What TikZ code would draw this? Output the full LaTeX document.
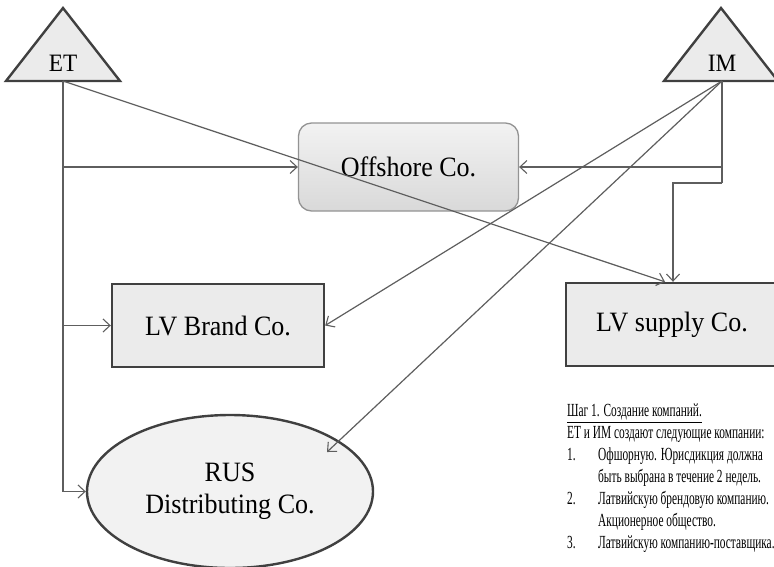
\documentclass[tikz,border=0pt]{standalone}
\usepackage{fontspec}
\setmainfont{Liberation Serif}
\newfontfamily\diagfont[FakeStretch=0.93]{Liberation Serif}
\newfontfamily\notefont[FakeStretch=0.615]{Liberation Serif}
\usetikzlibrary{arrows.meta,shapes.geometric}
\definecolor{linegray}{HTML}{5E5E5E}
\definecolor{edgedark}{HTML}{404040}
\definecolor{boxfill}{HTML}{EBEBEB}
\tikzset{
  conn/.style={draw=linegray, line width=1.2pt},
  arr/.style={conn, -{Straight Barb[length=7pt,width=13pt,line width=1.1pt]}},
  tri/.style={draw=edgedark, line width=2.4pt, fill=boxfill, line join=miter},
  sqbox/.style={draw=edgedark, line width=2.4pt, fill=boxfill, inner sep=0pt},
  roundbox/.style={draw=gray!85, line width=1.3pt, rounded corners=13pt, top color=gray!10, bottom color=gray!30, inner sep=0pt},
  ovalbox/.style={ellipse, draw=edgedark, line width=2.4pt, fill=gray!10, inner sep=0pt},
  bigtext/.style={font=\diagfont\fontsize{28}{32}\selectfont, text=black},
  tritext/.style={font=\diagfont\fontsize{25}{28}\selectfont, text=black},
  notetext/.style={font=\notefont\fontsize{18.5}{22}\selectfont, text=black, align=left, inner sep=0pt}
}
\begin{document}
\begin{tikzpicture}[x=1pt,y=-1pt]
\useasboundingbox (0,0) rectangle (774,566);
% triangles
\draw[tri] (63,8) -- (120,81) -- (6,81) -- cycle;
\draw[tri] (721,8) -- (778,81) -- (664,81) -- cycle;
\node[tritext] (et) at (63,63) {ET};
\node[tritext] (im) at (722,63) {IM};
\coordinate (etb) at (63,81);
\coordinate (imb) at (722,81);
% boxes
\node[roundbox, minimum width=220pt, minimum height=88pt, bigtext] (off) at (408.5,167) {Offshore Co.};
\node[sqbox, minimum width=212pt, minimum height=83pt, bigtext] (brand) at (218,325.5) {LV Brand Co.};
\node[sqbox, minimum width=212pt, minimum height=83pt, bigtext] (supply) at (672,324.5) {LV supply Co.};
\node[ovalbox, minimum width=286pt, minimum height=153pt, bigtext, align=center] (rus) at (230,491.5) {RUS\\Distributing Co.};
\coordinate (rustip) at (327,452);
\coordinate (imstep) at (722,183);
% ET connectors
\draw[conn] (etb) -- (etb |- rus.west);
\draw[arr] (etb |- rus.west) -- (rus.west);
\draw[arr] (etb |- off.west) -- (off.west);
\draw[arr] (etb |- brand.west) -- (brand.west);
\draw[arr] (etb) -- ([xshift=-7pt]supply.north);
% IM connectors
\draw[conn] (imb) -- (imstep);
\draw[arr] (imb |- off.east) -- (off.east);
\draw[arr] (imstep) -| ([xshift=1pt]supply.north);
\draw[arr] (imb) -- (brand.east);
\draw[arr] (imb) -- (rustip);
% note
\node[notetext, anchor=north west] (note) at (567,404) {%
\underline{Шаг 1. Создание компаний.}\\
ЕТ и ИМ создают следующие компании:\\
\makebox[31pt][l]{1.}Офшорную. Юрисдикция должна\\
\hspace*{31pt}быть выбрана в течение 2 недель.\\
\makebox[31pt][l]{2.}Латвийскую брендовую компанию.\\
\hspace*{31pt}Акционерное общество.\\
\makebox[31pt][l]{3.}Латвийскую компанию-поставщика.};
\end{tikzpicture}
\end{document}
